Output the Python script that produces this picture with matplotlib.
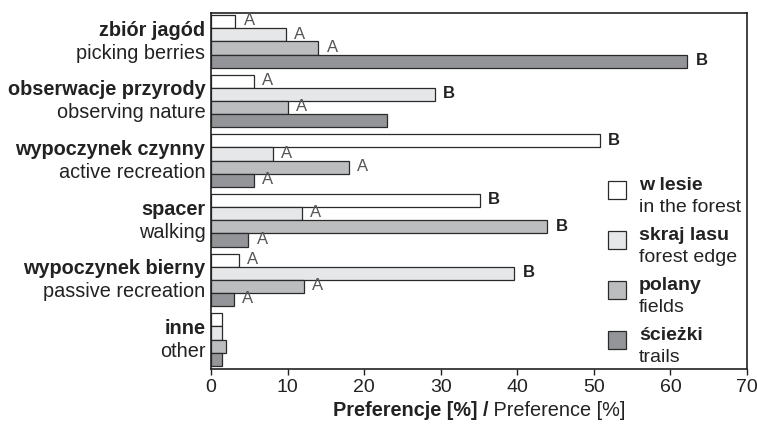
import matplotlib
matplotlib.use("Agg")
import matplotlib.pyplot as plt
from matplotlib.patches import Rectangle
import numpy as np

plt.rcParams['font.family'] = ['Liberation Sans', 'DejaVu Sans']

# ---- data ----
categories_pl = ["zbiór jagód", "obserwacje przyrody", "wypoczynek czynny",
                 "spacer", "wypoczynek bierny", "inne"]
categories_en = ["picking berries", "observing nature", "active recreation",
                 "walking", "passive recreation", "other"]
series_pl = ["w lesie", "skraj lasu", "polany", "ścieżki"]
series_en = ["in the forest", "forest edge", "fields", "trails"]

w_lesie    = [3.2, 5.6, 50.8, 35.1, 3.6, 1.5]
skraj_lasu = [9.8, 29.2, 8.1, 11.9, 39.6, 1.5]
polany     = [14.0, 10.0, 18.0, 43.9, 12.1, 2.0]
sciezki    = [62.2, 23.0, 5.6, 4.9, 3.0, 1.5]

letters_w_lesie    = ["A", "A", "B", "B", "A", ""]
letters_skraj_lasu = ["A", "B", "A", "A", "B", ""]
letters_polany     = ["A", "A", "A", "B", "A", ""]
letters_sciezki    = ["B", "", "A", "A", "A", ""]

xticks = [0, 10, 20, 30, 40, 50, 60, 70]

# ---- figure ----
values = [w_lesie, skraj_lasu, polany, sciezki]
letters = [letters_w_lesie, letters_skraj_lasu, letters_polany, letters_sciezki]
colors = ["#ffffff", "#e6e7e8", "#bcbdbf", "#939598"]
edge = "#2a2a2a"

fig = plt.figure(figsize=(7.57, 4.25), dpi=100)
ax = fig.add_axes([0.2787, 0.131, 0.9868 - 0.2787, 0.9694 - 0.131])

n = len(categories_pl)
y = np.arange(n)
h = 0.885 / 4
for k in range(4):
    pos = y + (k - 1.5) * h
    bars = ax.barh(pos, values[k], height=h, color=colors[k], edgecolor=edge,
                   linewidth=0.9, zorder=2)
    for b, lab in zip(bars, letters[k]):
        if not lab:
            continue
        bold = lab == "B"
        ax.annotate(lab, xy=(b.get_width(), b.get_y() + b.get_height() / 2),
                    xytext=(6, 0.5), textcoords="offset points",
                    ha="left", va="center", fontsize=12,
                    fontweight="bold" if bold else "normal",
                    color="#222222" if bold else "#555555")

ax.set_xlim(0, 70)
ax.set_ylim(5.5, -0.476)
ax.set_xticks(xticks)
ax.set_xticklabels([str(t) for t in xticks], fontsize=14, color="#222222")
ax.set_yticks([])
ax.tick_params(axis="x", direction="out", length=4, width=1, color="#222222", pad=3)
for s in ax.spines.values():
    s.set_linewidth(1.2)
    s.set_color("#222222")

# category labels (two lines)
for i in range(n):
    ax.annotate(categories_pl[i], xy=(0, i), xycoords=("axes fraction", "data"),
                xytext=(-4, 8), textcoords="offset points", ha="right", va="center",
                fontsize=14.3, fontweight="bold", color="#222222")
    ax.annotate(categories_en[i], xy=(0, i), xycoords=("axes fraction", "data"),
                xytext=(-4, -8.5), textcoords="offset points", ha="right", va="center",
                fontsize=14.3, color="#222222")

# legend drawn manually
ax_h = 356.3
for k in range(4):
    yc = 185 + 50 * k           # pixel row of bold line
    ybold = (369.3 - yc) / ax_h
    yen = (369.3 - (yc + 22)) / ax_h
    sq_top = (369.3 - (yc - 4)) / ax_h
    sq_h = 18 / ax_h
    ax.add_patch(Rectangle((0.7407, sq_top - sq_h), 18 / 536, sq_h,
                           transform=ax.transAxes, facecolor=colors[k],
                           edgecolor=edge, linewidth=0.9, zorder=3))
    ax.text(0.7985, ybold, series_pl[k], transform=ax.transAxes, ha="left",
            va="center", fontsize=14, fontweight="bold", color="#222222")
    ax.text(0.7985, yen, series_en[k], transform=ax.transAxes, ha="left",
            va="center", fontsize=14, color="#222222")

# x axis label: bold + normal parts, centered
t1 = fig.text(0, 0.02, "Preferencje [%] /", fontsize=14.3, fontweight="bold",
              color="#222222", ha="left", va="baseline")
t2 = fig.text(0, 0.02, " Preference [%]", fontsize=14.3, color="#222222",
              ha="left", va="baseline")
fig.canvas.draw()
r = fig.canvas.get_renderer()
w1 = t1.get_window_extent(r).width / fig.bbox.width
w2 = t2.get_window_extent(r).width / fig.bbox.width
center = (0.2787 + 0.9868) / 2
x0 = center - (w1 + w2) / 2
t1.set_x(x0)
t2.set_x(x0 + w1)

fig.savefig("out.png", dpi=100)
